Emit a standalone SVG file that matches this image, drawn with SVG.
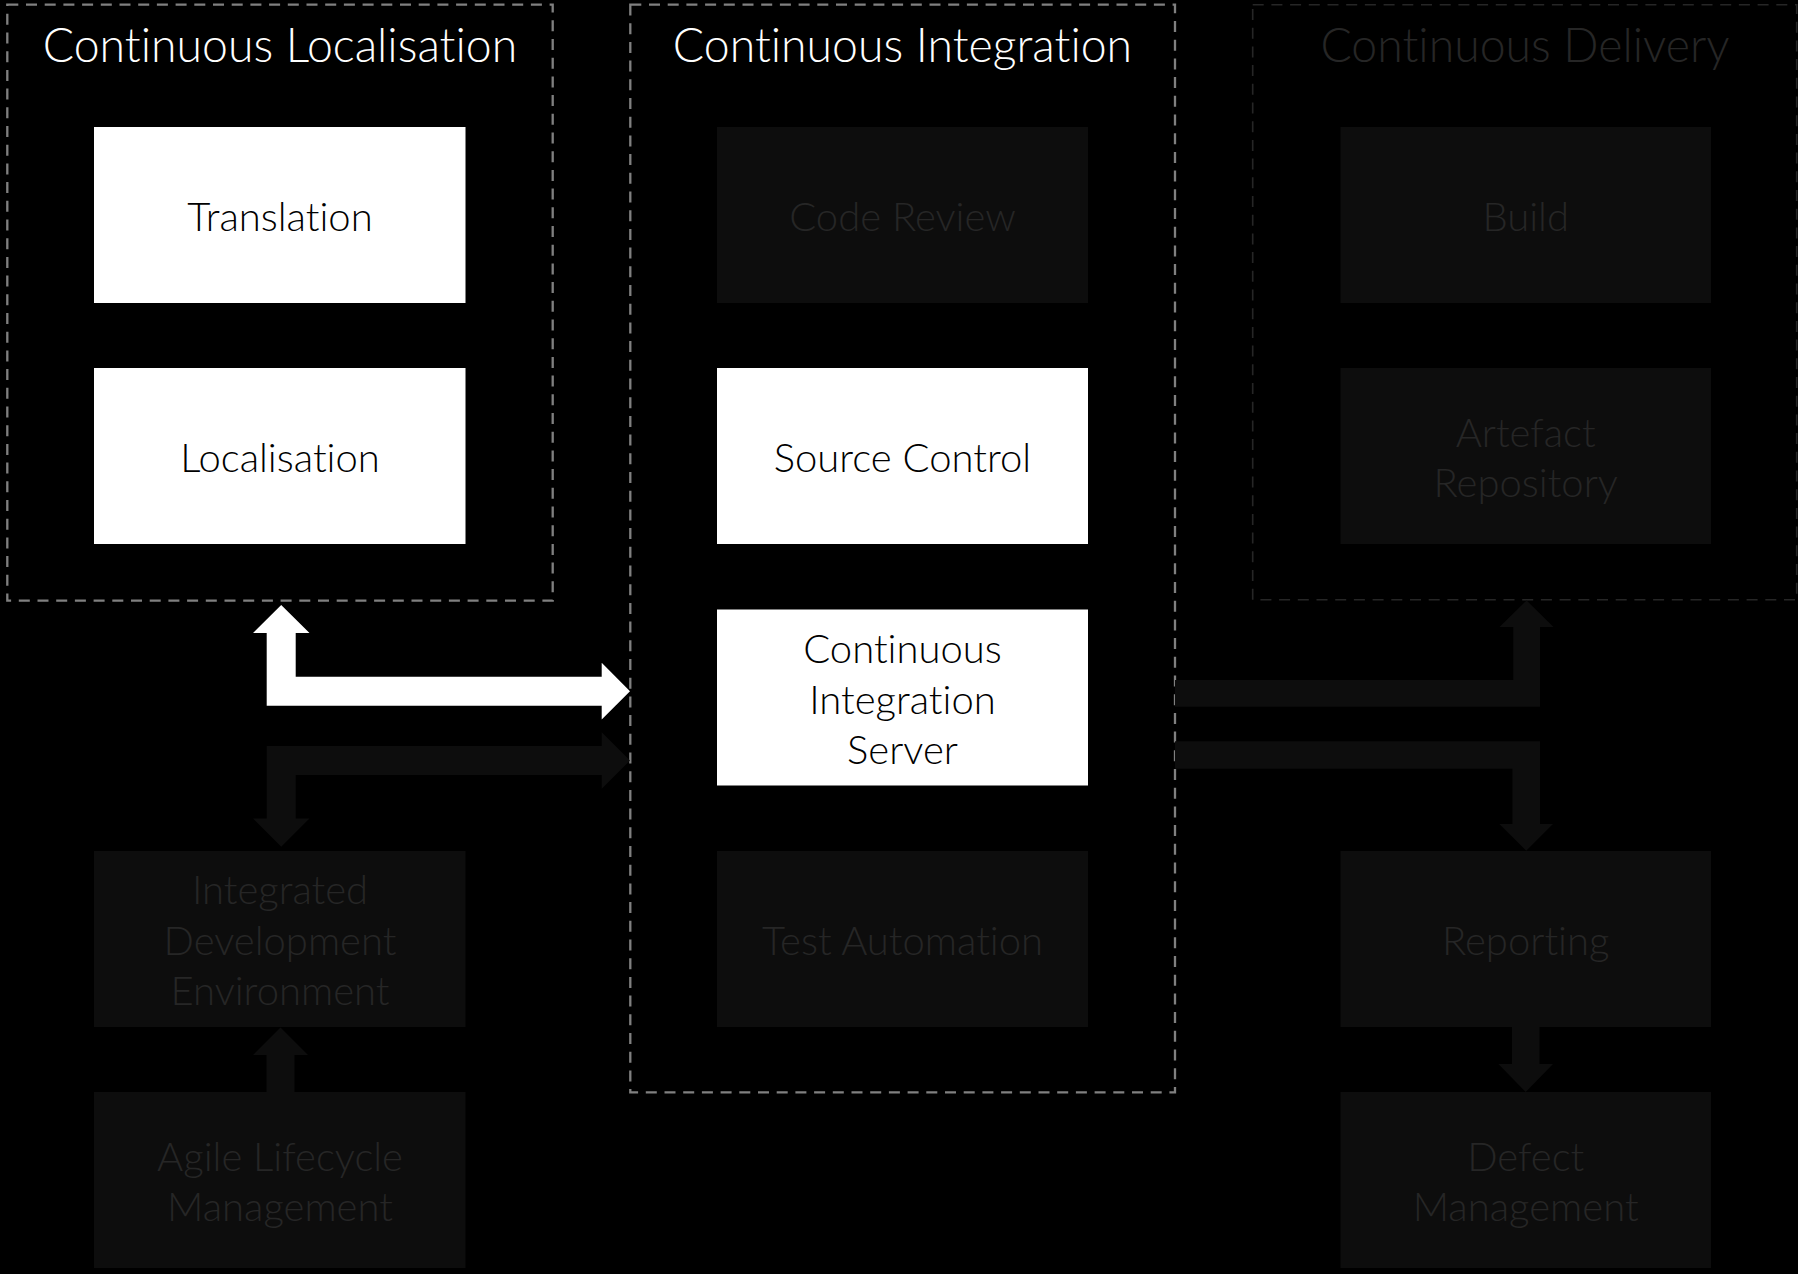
<svg xmlns="http://www.w3.org/2000/svg" width="1798" height="1274" viewBox="0 0 1798 1274">
<style>
.bg{fill:#000}
.grp{fill:none;stroke:#808080;stroke-width:2.3;stroke-dasharray:11 7.7}
.grpdim{fill:none;stroke:#262626;stroke-width:1.6;stroke-dasharray:11 7.7}
text{font-family:Lato,"Open Sans","Liberation Sans",sans-serif;font-weight:300;text-anchor:middle;font-variant-ligatures:none;font-feature-settings:"liga" 0}
.title{font-size:46.4px;fill:#fff}
.titledim{font-size:46.4px;fill:#262626}
.on rect{fill:#fff}
.on text{fill:#000;font-size:40px}
.off rect{fill:#0d0d0d}
.off text{fill:#262626;font-size:40px}
.arrow-on{fill:#fff}
.arrow-off{fill:#0d0d0d}
</style>
<rect class="bg" x="0" y="0" width="1798" height="1274"/>

<g id="group-continuous-localisation">
<rect class="grp" x="7.3" y="4.7" width="545.4" height="596"/>
<text class="title" x="280" y="62">Continuous Localisation</text>
</g>
<g id="group-continuous-integration">
<rect class="grp" x="630.3" y="4.7" width="544.7" height="1087.6"/>
<text class="title" x="902.5" y="62">Continuous Integration</text>
</g>
<g id="group-continuous-delivery">
<rect class="grpdim" x="1252.7" y="4.7" width="544" height="595"/>
<text class="titledim" x="1525" y="62">Continuous Delivery</text>
</g>

<g id="connectors">
<polygon class="arrow-on" points="281.2,605 309.5,633 295.7,633 295.7,676.7 601.7,676.7 601.7,662.7 630,691.2 601.7,719.5 601.7,705.7 266.7,705.7 266.7,633 253,633"/>
<polygon class="arrow-off" points="630,760.5 601.7,788.8 601.7,775 295.7,775 295.7,818.5 309.5,818.5 281.2,846.8 253,818.5 266.7,818.5 266.7,746 601.7,746 601.7,732.2"/>
<polygon class="arrow-off" points="1175,680 1513.3,680 1513.3,627 1499.5,627 1526.6,600.5 1553.5,627 1540,627 1540,706.7 1175,706.7"/>
<polygon class="arrow-off" points="1175,741.3 1540,741.3 1540,824 1553,824 1526.2,850.7 1499.4,824 1512.4,824 1512.4,768.7 1175,768.7"/>
<polygon class="arrow-off" points="1512,1027 1539.5,1027 1539.5,1064 1553,1064 1525.7,1092 1498.4,1064 1512,1064"/>
<polygon class="arrow-off" points="266.5,1092 294.5,1092 294.5,1055 308,1055 280.5,1027.5 253,1055 266.5,1055"/>
</g>

<g id="node-translation" class="on">
<rect x="94" y="127" width="371.5" height="176"/>
<text x="280" y="230.5">Translation</text>
</g>
<g id="node-localisation" class="on">
<rect x="94" y="368" width="371.5" height="176"/>
<text x="280" y="471.5">Localisation</text>
</g>
<g id="node-ide" class="off">
<rect x="94" y="851" width="371.5" height="176"/>
<text x="280" y="904">Integrated</text>
<text x="280" y="954.5">Development</text>
<text x="280" y="1005">Environment</text>
</g>
<g id="node-agile" class="off">
<rect x="94" y="1092" width="371.5" height="176"/>
<text x="280" y="1170.5">Agile Lifecycle</text>
<text x="280" y="1221">Management</text>
</g>

<g id="node-code-review" class="off">
<rect x="717" y="127" width="371" height="176"/>
<text x="902.5" y="230.5">Code Review</text>
</g>
<g id="node-source-control" class="on">
<rect x="717" y="368" width="371" height="176"/>
<text x="902.5" y="471.5">Source Control</text>
</g>
<g id="node-ci-server" class="on">
<rect x="717" y="609.5" width="371" height="176"/>
<text x="902.5" y="663">Continuous</text>
<text x="902.5" y="713.5">Integration</text>
<text x="902.5" y="764">Server</text>
</g>
<g id="node-test-automation" class="off">
<rect x="717" y="851" width="371" height="176"/>
<text x="902.5" y="954.5">Test Automation</text>
</g>

<g id="node-build" class="off">
<rect x="1340.5" y="127" width="370.5" height="176"/>
<text x="1525.7" y="230.5">Build</text>
</g>
<g id="node-artefact-repository" class="off">
<rect x="1340.5" y="368" width="370.5" height="176"/>
<text x="1525.7" y="446.5">Artefact</text>
<text x="1525.7" y="497">Repository</text>
</g>
<g id="node-reporting" class="off">
<rect x="1340.5" y="851" width="370.5" height="176"/>
<text x="1525.7" y="954.5">Reporting</text>
</g>
<g id="node-defect-management" class="off">
<rect x="1340.5" y="1092" width="370.5" height="176"/>
<text x="1525.7" y="1170.5">Defect</text>
<text x="1525.7" y="1221">Management</text>
</g>
</svg>
